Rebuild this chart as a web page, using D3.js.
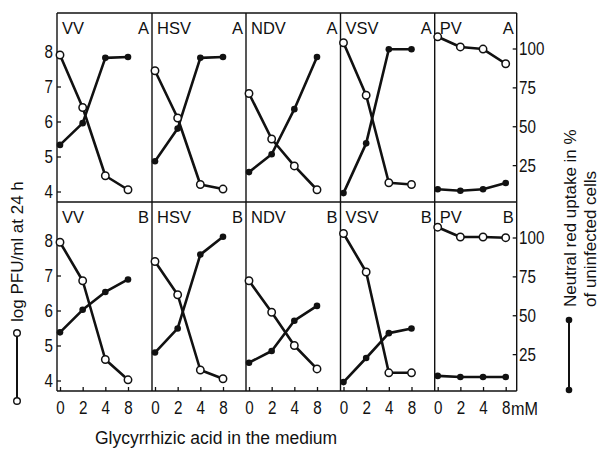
<!DOCTYPE html>
<html>
<head>
<meta charset="utf-8">
<script src="https://cdn.jsdelivr.net/npm/d3@7"></script>
<style>
  body { margin: 0; background: #fff; }
  text { fill: #111; }
  .narrow { font-family: "Liberation Sans", Arial, sans-serif; }
  .reg { font-family: "Liberation Sans", Arial, sans-serif; }
</style>
</head>
<body>
<div id="chart"></div>
<script>
const width = 600
const height = 449

// concentrations of glycyrrhizic acid (mM), shown as equally spaced categories
const conc = ["0", "2", "4", "8"]
const viruses = ["VV", "HSV", "NDV", "VSV", "PV"]
const rowNames = ["A", "B"]

// log PFU/ml at 24 h (open circles)
const pfuA = [
  [7.9, 6.4, 4.45, 4.05],
  [7.45, 6.1, 4.2, 4.07],
  [6.8, 5.5, 4.73, 4.05],
  [8.25, 6.75, 4.25, 4.2],
  [8.42, 8.13, 8.07, 7.65]
]
const pfuB = [
  [7.95, 6.85, 4.6, 4.02],
  [7.4, 6.45, 4.3, 4.05],
  [6.85, 5.95, 5.0, 4.33],
  [8.2, 7.1, 4.22, 4.22],
  [8.38, 8.1, 8.1, 8.08]
]
// neutral red uptake in % of uninfected cells (filled dots)
const uptakeA = [
  [38, 52, 94, 94.5],
  [27.5, 48.5, 94, 94.5],
  [20.5, 32, 61, 94.5],
  [7, 39, 99.5, 99.5],
  [9.5, 8.5, 9.5, 13.5]
]
const uptakeB = [
  [39, 53.5, 65, 73],
  [26, 41.5, 89, 100.5],
  [19.5, 27, 46.5, 56],
  [7, 22.5, 38.5, 41.5],
  [11, 10.3, 10.3, 10.3]
]

const pfuTicks = [4, 5, 6, 7, 8]
const uptakeTicks = [25, 50, 75, 100]

const pfuRows = [pfuA, pfuB]
const uptakeRows = [uptakeA, uptakeB]

// layout
const panelX = [57, 152, 246, 340.5, 434.7]
const rightX = 516.7
const rowTop = [13, 202]
const rowBottom = [202, 391]

const svg = d3.select("#chart")
    .append("svg")
    .attr("width", width)
    .attr("height", height)
    .style("background-color", "#fff")

// squeeze tick labels to look like the condensed type of the original
function styleAxis(g) {
    g.select(".domain").remove()
    g.selectAll("text")
        .attr("font-size", 19)
        .attr("fill", "#111")
        .attr("transform", "scale(0.8,1)")
    g.selectAll("line").attr("stroke", "#111").attr("stroke-width", 1.3)
}

const frame = svg.append("g")
    .attr("stroke", "#111")
    .attr("stroke-width", 1.4)
    .attr("fill", "none")

// horizontal borders
;[rowTop[0], rowBottom[0], rowBottom[1]].forEach(y => {
    frame.append("line").attr("x1", panelX[0]).attr("x2", rightX).attr("y1", y).attr("y2", y)
})
// vertical borders
panelX.concat([rightX]).forEach(x => {
    frame.append("line").attr("x1", x).attr("x2", x).attr("y1", rowTop[0]).attr("y2", rowBottom[1])
})

rowNames.forEach((rowName, r) => {
    const top = rowTop[r]
    const yLog = d3.scaleLinear().domain([4, 8]).range([top + 178.5, top + 38.5])
    const yPct = d3.scaleLinear().domain([0, 100]).range([top + 191, top + 35.5])

    // left axis
    svg.append("g")
        .attr("class", "narrow")
        .attr("transform", `translate(${panelX[0]},0)`)
        .call(d3.axisLeft(yLog).tickValues(pfuTicks).tickFormat(d3.format("d"))
            .tickSizeInner(-4).tickSizeOuter(0).tickPadding(5))
        .call(styleAxis)

    // right axis
    svg.append("g")
        .attr("class", "narrow")
        .attr("transform", `translate(${rightX},0)`)
        .call(d3.axisRight(yPct).tickValues(uptakeTicks).tickFormat(d3.format("d"))
            .tickSizeInner(-4).tickSizeOuter(0).tickPadding(3))
        .call(styleAxis)

    viruses.forEach((name, i) => {
        const x0 = panelX[i]
        const x1 = i < viruses.length - 1 ? panelX[i + 1] : rightX
        const x = d3.scalePoint().domain(conc).range([x0 + 3, x0 + 71])

        const pfu = pfuRows[r][i]
        const upt = uptakeRows[r][i]

        // panel labels
        svg.append("text").attr("class", "reg")
            .attr("x", x0 + 5).attr("y", top + 21)
            .attr("font-size", 16.5)
            .text(name)
        svg.append("text").attr("class", "reg")
            .attr("x", x1 - 3).attr("y", top + 21)
            .attr("text-anchor", "end")
            .attr("font-size", 16.5)
            .text(rowName)

        // bottom ticks
        if (r === 1) {
            svg.append("g")
                .attr("class", "narrow")
                .attr("transform", `translate(0,${rowBottom[1]})`)
                .call(d3.axisBottom(x).tickSizeInner(-4).tickSizeOuter(0).tickPadding(10))
                .call(styleAxis)
        }

        const g = svg.append("g")

        const uptLine = d3.line().x((d, j) => x(conc[j])).y(d => yPct(d))
        const pfuLine = d3.line().x((d, j) => x(conc[j])).y(d => yLog(d))

        g.append("path")
            .attr("d", uptLine(upt))
            .attr("fill", "none")
            .attr("stroke", "#111")
            .attr("stroke-width", 2.6)
            .attr("stroke-linejoin", "round")
        g.append("path")
            .attr("d", pfuLine(pfu))
            .attr("fill", "none")
            .attr("stroke", "#111")
            .attr("stroke-width", 2.6)
            .attr("stroke-linejoin", "round")

        g.selectAll(".dot")
            .data(upt)
            .enter()
            .append("circle")
            .attr("cx", (d, j) => x(conc[j]))
            .attr("cy", d => yPct(d))
            .attr("r", 3.3)
            .attr("fill", "#111")

        g.selectAll(".ring")
            .data(pfu)
            .enter()
            .append("circle")
            .attr("cx", (d, j) => x(conc[j]))
            .attr("cy", d => yLog(d))
            .attr("r", 3.7)
            .attr("fill", "#fff")
            .attr("stroke", "#111")
            .attr("stroke-width", 1.5)
    })
})

// unit after the last tick
svg.append("text").attr("class", "reg")
    .attr("transform", "translate(511,415) scale(0.9,1)")
    .attr("font-size", 18)
    .text("mM")

// x axis title
svg.append("text").attr("class", "reg")
    .attr("x", 95).attr("y", 444)
    .attr("font-size", 17.5)
    .text("Glycyrrhizic acid in the medium")

// left title and legend
svg.append("text").attr("class", "reg")
    .attr("transform", "translate(23,322) rotate(-90)")
    .attr("font-size", 17)
    .text("log  PFU/ml at 24 h")

svg.append("line")
    .attr("x1", 17).attr("x2", 17).attr("y1", 333).attr("y2", 401)
    .attr("stroke", "#111").attr("stroke-width", 2)
svg.selectAll(".legOpen")
    .data([333, 401])
    .enter()
    .append("circle")
    .attr("cx", 17).attr("cy", d => d).attr("r", 3.3)
    .attr("fill", "#fff").attr("stroke", "#111").attr("stroke-width", 1.4)

// right title and legend
svg.append("text").attr("class", "reg")
    .attr("transform", "translate(576,307) rotate(-90)")
    .attr("font-size", 17)
    .text("Neutral red uptake in %")
svg.append("text").attr("class", "reg")
    .attr("transform", "translate(596,307) rotate(-90)")
    .attr("font-size", 17)
    .text("of uninfected cells")

svg.append("line")
    .attr("x1", 569).attr("x2", 569).attr("y1", 320).attr("y2", 390)
    .attr("stroke", "#111").attr("stroke-width", 2)
svg.selectAll(".legDot")
    .data([320, 390])
    .enter()
    .append("circle")
    .attr("cx", 569).attr("cy", d => d).attr("r", 3.3)
    .attr("fill", "#111")
</script>
</body>
</html>
